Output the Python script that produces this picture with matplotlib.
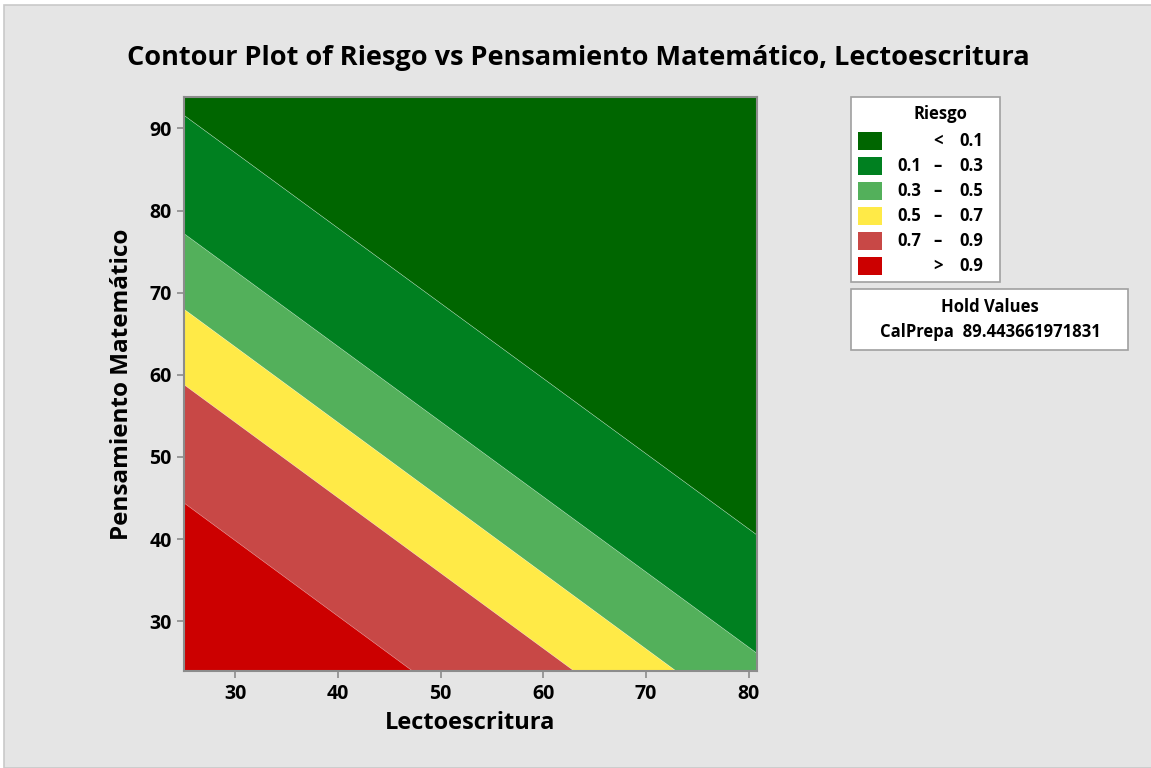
"""Contour plot of Riesgo vs Pensamiento Matematico and Lectoescritura (Minitab style)."""

import matplotlib.pyplot as plt
from matplotlib.patches import Rectangle
import numpy as np

W, H = 1151, 768

# Boundary lines between risk bands:
# y value of each boundary at the left (x=25) and right (x=80.8) of the plot
x_edges = [25.0, 80.8]
levels = [0.1, 0.3, 0.5, 0.7, 0.9]
y_left = [91.6, 77.2, 68.0, 58.8, 44.4]
y_right = [40.5, 26.1, 16.7, 7.6, -6.9]

band_labels = ['<  0.1', '0.1  –  0.3', '0.3  –  0.5', '0.5  –  0.7', '0.7  –  0.9', '>  0.9']
band_colors = ['#006600', '#008020', '#53b05b', '#ffea47', '#c84846', '#cc0000']

x_ticks = [30, 40, 50, 60, 70, 80]
y_ticks = [30, 40, 50, 60, 70, 80, 90]
hold_name = 'CalPrepa'
hold_value = '89.443661971831'

plt.rcParams['font.family'] = ['Open Sans', 'DejaVu Sans']


def fx(px):
    return px / W


def fy(py):
    return 1 - py / H


fig = plt.figure(figsize=(W / 100, H / 100), dpi=100)
fig.patch.set_facecolor('white')
fig.patches.append(Rectangle((fx(4), 0), 1, fy(5), transform=fig.transFigure,
                             facecolor='#e5e5e5', edgecolor='#c9c9c9', lw=1.2, zorder=-5))

ax = fig.add_axes([fx(184), fy(671.3), fx(757) - fx(184), fy(96.8) - fy(671.3)])
ax.set_zorder(2)
xlim = (25.0, 80.8)
ylim = (23.9, 93.85)

xs = np.array(x_edges)
lines = [np.array([a, b]) for a, b in zip(y_left, y_right)]
top = np.full(2, 200.0)
bottom = np.full(2, -200.0)
bounds = [top] + lines + [bottom]
for k, color in enumerate(band_colors):
    ax.fill_between(xs, bounds[k + 1], bounds[k], color=color, lw=0)
for ln in lines:
    ax.plot(xs, ln, color='white', lw=0.5, alpha=0.35)

ax.set_xlim(xlim)
ax.set_ylim(ylim)
ax.set_xticks(x_ticks)
ax.set_yticks(y_ticks)
for s in ax.spines.values():
    s.set_color('#8c8c8c')
    s.set_linewidth(1.5)
ax.tick_params(direction='out', length=5, width=1.2, color='#8c8c8c',
               labelsize=14, pad=4)
for lab in ax.get_xticklabels() + ax.get_yticklabels():
    lab.set_fontweight('bold')
ax.set_xlabel('Lectoescritura', fontsize=17, fontweight='bold', labelpad=5)
ax.set_ylabel('Pensamiento Matemático', fontsize=17.5, fontweight='bold', labelpad=11)

fig.text(fx(578), fy(58), 'Contour Plot of Riesgo vs Pensamiento Matemático, Lectoescritura',
         ha='center', va='center', fontsize=19.5, fontweight='bold')

# Legend box
fig.patches.append(Rectangle((fx(851), fy(282)), fx(1000) - fx(851), fy(97) - fy(282),
                             transform=fig.transFigure, facecolor='white',
                             edgecolor='#a0a0a0', lw=1.2))
fs = 12
fig.text(fx(940), fy(114), 'Riesgo', ha='center', va='center', fontsize=fs, fontweight='bold')
for i, (lab, color) in enumerate(zip(band_labels, band_colors)):
    cy = 140.7 + 25 * i
    fig.patches.append(Rectangle((fx(858), fy(cy + 9)), fx(24), 18 / H,
                                 transform=fig.transFigure, facecolor=color, lw=0))
    parts = lab.split('  ')
    if len(parts) == 3:
        fig.text(fx(921), fy(cy), parts[0], ha='right', va='center', fontsize=fs, fontweight='bold')
        fig.text(fx(938), fy(cy), parts[1], ha='center', va='center', fontsize=fs, fontweight='bold')
        fig.text(fx(983), fy(cy), parts[2], ha='right', va='center', fontsize=fs, fontweight='bold')
    else:
        fig.text(fx(938), fy(cy), parts[0], ha='center', va='center', fontsize=fs, fontweight='bold')
        fig.text(fx(983), fy(cy), parts[1], ha='right', va='center', fontsize=fs, fontweight='bold')

# Hold values box
fig.patches.append(Rectangle((fx(851), fy(350)), fx(1128) - fx(851), fy(289) - fy(350),
                             transform=fig.transFigure, facecolor='white',
                             edgecolor='#a0a0a0', lw=1.2))
fig.text(fx(990), fy(307), 'Hold Values', ha='center', va='center', fontsize=fs, fontweight='bold')
fig.text(fx(990), fy(332), hold_name + '  ' + hold_value, ha='center', va='center',
         fontsize=fs, fontweight='bold')

fig.savefig('out.png', dpi=100, facecolor=fig.get_facecolor())
